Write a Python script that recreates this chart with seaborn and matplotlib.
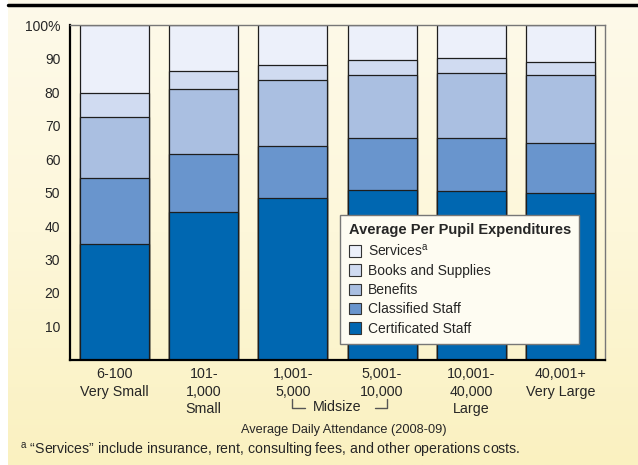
import matplotlib
matplotlib.use("Agg")
import matplotlib.pyplot as plt
import matplotlib.transforms as mtransforms
from matplotlib.patches import Patch
from matplotlib.lines import Line2D
from matplotlib.colors import LinearSegmentedColormap
import seaborn as sns
import numpy as np

categories = ["6-100\nVery Small", "101-\n1,000\nSmall", "1,001-\n5,000",
              "5,001-\n10,000", "10,001-\n40,000\nLarge", "40,001+\nVery Large"]
certificated = [34.5, 44.3, 48.5, 50.7, 50.4, 49.9]
classified = [19.7, 17.1, 15.4, 15.7, 16.0, 15.0]
benefits = [18.3, 19.4, 19.6, 18.6, 19.2, 20.1]
books = [7.1, 5.5, 4.6, 4.5, 4.5, 4.1]
services = [20.4, 13.7, 11.9, 10.5, 9.9, 10.9]
series_names = ["Certificated Staff", "Classified Staff", "Benefits",
                "Books and Supplies", "Services$^{\\mathrm{a}}$"]
colors = ["#0067B1", "#6995CD", "#AABFE1", "#D0DBF1", "#ECF0FA"]
ytick_values = [10, 20, 30, 40, 50, 60, 70, 80, 90, 100]
ytick_labels = ["10", "20", "30", "40", "50", "60", "70", "80", "90", "100%"]

sns.set_theme(style="white")
plt.rcParams["font.family"] = ["Liberation Sans", "DejaVu Sans"]
plt.rcParams["mathtext.fontset"] = "custom"
plt.rcParams["mathtext.rm"] = "Liberation Sans"

fig = plt.figure(figsize=(6.38, 4.65), dpi=100, facecolor="white")

# background gradient
bg = fig.add_axes([8/638, 0, 1 - 8/638, 1], zorder=-10)
cmap = LinearSegmentedColormap.from_list("bg", ["#FAF1C0", "#FDF7DA", "#FEFAEA"])
bg.imshow(np.linspace(0, 1, 256).reshape(-1, 1), aspect="auto", cmap=cmap,
          origin="lower", extent=[0, 1, 0, 1])
bg.set_axis_off()

ax = fig.add_axes([70/638, 1-360/465, 535/638, 335/465])
ax.set_facecolor("none")

layers = [certificated, classified, benefits, books, services]
cum = np.cumsum(np.array(layers), axis=0)
for i in range(len(layers) - 1, -1, -1):
    sns.barplot(x=categories, y=list(cum[i]), color=colors[i], saturation=1,
                width=0.775, edgecolor="#1E1E1E", linewidth=0.9, ax=ax, zorder=2)

ax.set_xlim(-0.5, 5.5)
ax.set_ylim(0, 100)
ax.set_yticks(ytick_values)
ax.set_yticklabels(ytick_labels, fontsize=10)
ax.tick_params(axis="y", direction="out", length=3, width=0.8, color="#333333", pad=4)
ax.tick_params(axis="x", length=0, pad=5, labelsize=10.3)
for lab in ax.get_xticklabels():
    lab.set_linespacing(1.33)
ax.set_xlabel("")
ax.set_ylabel("")
for s in ["left", "bottom"]:
    ax.spines[s].set_color("black")
    ax.spines[s].set_linewidth(1.6)
for s in ["top", "right"]:
    ax.spines[s].set_color("#777777")
    ax.spines[s].set_linewidth(1.0)

handles = [Patch(facecolor=colors[i], edgecolor="#333333", linewidth=0.8)
           for i in range(len(layers) - 1, -1, -1)]
labels = [series_names[i] for i in range(len(layers) - 1, -1, -1)]
leg = ax.legend(handles, labels, title="Average Per Pupil Expenditures",
                loc="upper left", bbox_to_anchor=(0.505, 0.433), frameon=True,
                fancybox=False, edgecolor="#777777", facecolor="#FEFCF2",
                framealpha=1, fontsize=10, borderaxespad=0,
                title_fontproperties={"weight": "bold", "size": 10.5},
                handlelength=0.9, handleheight=0.9, handletextpad=0.5,
                labelspacing=0.38, borderpad=0.6, alignment="left")
leg.set_zorder(5)

# Midsize bracket
tr = mtransforms.blended_transform_factory(ax.transData, fig.transFigure)
yb_top, yb_bot = 1 - 399/465, 1 - 408/465
fig.add_artist(Line2D([1.99, 1.99, 2.14], [yb_top, yb_bot, yb_bot], transform=tr,
                      color="#555555", lw=1.0))
fig.add_artist(Line2D([2.92, 3.06, 3.06], [yb_bot, yb_bot, yb_top], transform=tr,
                      color="#555555", lw=1.0))
fig.text(2.5, 1 - 407/465, "Midsize", transform=tr, ha="center", va="center", fontsize=10.3)

fig.text(344/638, 1 - 430/465, "Average Daily Attendance (2008-09)", ha="center",
         va="center", fontsize=9.2)
fig.text(20/638, 1 - 451/465,
         "$^{\\mathrm{a}}$ \u201cServices\u201d include insurance, rent, consulting fees, and other operations costs.",
         ha="left", va="center", fontsize=10.2)

fig.add_artist(Line2D([8/638, 1], [1 - 5/465, 1 - 5/465], transform=fig.transFigure,
                      color="black", lw=2.5))

fig.savefig("out.png", dpi=100, facecolor=fig.get_facecolor())
